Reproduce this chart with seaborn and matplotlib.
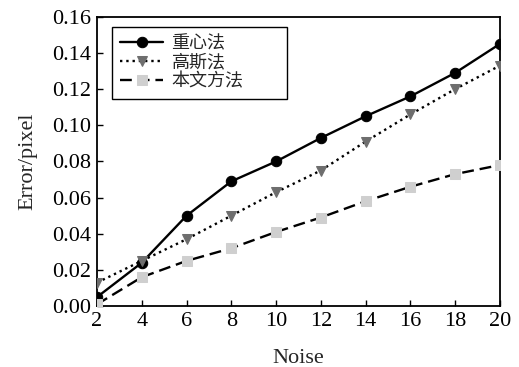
import matplotlib
matplotlib.use("Agg")
import matplotlib.pyplot as plt
import seaborn as sns
import pandas as pd

sns.set_theme(style="ticks")
plt.rcParams['font.family'] = ['Liberation Serif', 'Noto Sans CJK SC']

# data
noise = [2, 4, 6, 8, 10, 12, 14, 16, 18, 20]
centroid = [0.005, 0.024, 0.050, 0.069, 0.080, 0.093, 0.105, 0.116, 0.129, 0.145]
gauss = [0.013, 0.025, 0.037, 0.050, 0.063, 0.075, 0.091, 0.106, 0.120, 0.133]
ours = [0.001, 0.016, 0.025, 0.032, 0.041, 0.049, 0.058, 0.066, 0.073, 0.078]
names = ['重心法', '高斯法', '本文方法']

df = pd.DataFrame({'Noise': noise * 3,
                   'Error': centroid + gauss + ours,
                   'method': [names[0]] * 10 + [names[1]] * 10 + [names[2]] * 10})

fig = plt.figure(figsize=(5.19, 3.67), dpi=100)
ax = fig.add_axes([0.187, 0.166, 0.776, 0.788])

styles = {
    names[0]: dict(ls='-', marker='o', mfc='black', mec='black'),
    names[1]: dict(ls=':', marker='v', mfc='#6e6e6e', mec='#6e6e6e'),
    names[2]: dict(ls=(0, (5, 2.5)), marker='s', mfc='#cfcfcf', mec='#cfcfcf'),
}
for name in names:
    sub = df[df['method'] == name]
    st = styles[name]
    sns.lineplot(data=sub, x='Noise', y='Error', ax=ax, color='black',
                 linestyle=st['ls'], linewidth=1.7, marker=st['marker'],
                 markersize=7.5, markerfacecolor=st['mfc'],
                 markeredgecolor=st['mec'], label=name, zorder=3)

ax.set_xlim(2, 20)
ax.set_ylim(0, 0.16)
ax.set_xticks(noise)
ax.set_yticks([0, 0.02, 0.04, 0.06, 0.08, 0.10, 0.12, 0.14, 0.16])
ax.set_yticklabels([f'{v:.2f}' for v in ax.get_yticks()])
ax.tick_params(direction='in', length=4, width=1, labelsize=16, colors='black', pad=4)
for s in ax.spines.values():
    s.set_linewidth(1.3)
    s.set_color('black')
ax.set_xlabel('Noise', fontsize=16, labelpad=13)
ax.set_ylabel('Error/pixel', fontsize=16, labelpad=11)

# legend box stretched to the width seen in the reference
leg = ax.legend(loc='upper left', bbox_to_anchor=(0.037, 0.965, 0.435, 0.0),
                mode='expand', fontsize=13,
                frameon=True, fancybox=False, edgecolor='black', framealpha=1,
                handlelength=2.4, handletextpad=0.45, labelspacing=0.12,
                borderpad=0.45, borderaxespad=0)
leg.get_frame().set_linewidth(1.0)

fig.savefig('out.png', dpi=100)
